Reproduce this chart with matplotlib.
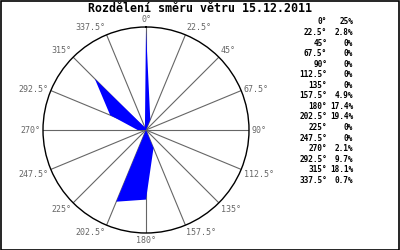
import numpy as np
import matplotlib
matplotlib.use("Agg")
import matplotlib.pyplot as plt
from matplotlib.patches import Rectangle

# wind direction distribution, 15.12.2011
directions = [0, 22.5, 45, 67.5, 90, 112.5, 135, 157.5,
              180, 202.5, 225, 247.5, 270, 292.5, 315, 337.5]
percents = [25, 2.8, 0, 0, 0, 0, 0, 4.9,
            17.4, 19.4, 0, 0, 2.1, 9.7, 18.1, 0.7]
title = "Rozdělení směru větru 15.12.2011"

W, H = 400, 250
CX, CY, R = 146, 130, 103          # rose centre / radius in px
RMAX = 25.75                       # value at the outer circle
MONO = "DejaVu Sans Mono"
GRAY = "#666666"

fig = plt.figure(figsize=(W / 100, H / 100), dpi=100, facecolor="white")
ax = fig.add_axes([(CX - R) / W, (H - CY - R) / H, 2 * R / W, 2 * R / H],
                  projection="polar")
ax.set_theta_zero_location("N")
ax.set_theta_direction(-1)
ax.set_ylim(0, RMAX)
ax.grid(False)
ax.set_xticks([])
ax.set_yticks([])
ax.patch.set_alpha(0)
ax.spines["polar"].set_edgecolor("black")
ax.spines["polar"].set_linewidth(1.0)

theta = np.deg2rad(directions)

# spokes + direction labels
for d, t in zip(directions, theta):
    ax.plot([t, t], [0, RMAX], color=GRAY, lw=0.8, zorder=1)
    s, c = np.sin(t), np.cos(t)
    ha = "left" if s > 0.1 else ("right" if s < -0.1 else "center")
    if c > 0.5:
        va = "bottom"
    elif c < -0.1:
        va = "top"
    else:
        va = "center"
    ax.text(t, RMAX * 1.025, f"{d:g}°", ha=ha, va=va, fontsize=6,
            family=MONO, color=GRAY)

# filled rose polygon
ax.fill(np.append(theta, theta[0]), np.append(percents, percents[0]),
        color="#0000ff", lw=0, zorder=2)

# title
fig.text(0.5, 1 - 9 / H, title, ha="center", va="center", fontsize=8.4,
         family=MONO, fontweight="bold", color="black")

# value table on the right
for i, (d, p) in enumerate(zip(directions, percents)):
    y = 1 - (22 + 10.55 * i) / H
    fig.text(327 / W, y, f"{d:g}°", ha="right", va="center", fontsize=5.6,
             family=MONO, fontweight="bold")
    fig.text(353 / W, y, f"{p:g}%", ha="right", va="center", fontsize=5.6,
             family=MONO, fontweight="bold")

fig.patches.append(Rectangle((0.5 / W, 0.5 / H), 1 - 1.5 / W, 1 - 1.5 / H,
                             transform=fig.transFigure, fill=False,
                             ec="black", lw=1.2))

fig.savefig("out.png", dpi=100, facecolor="white")
